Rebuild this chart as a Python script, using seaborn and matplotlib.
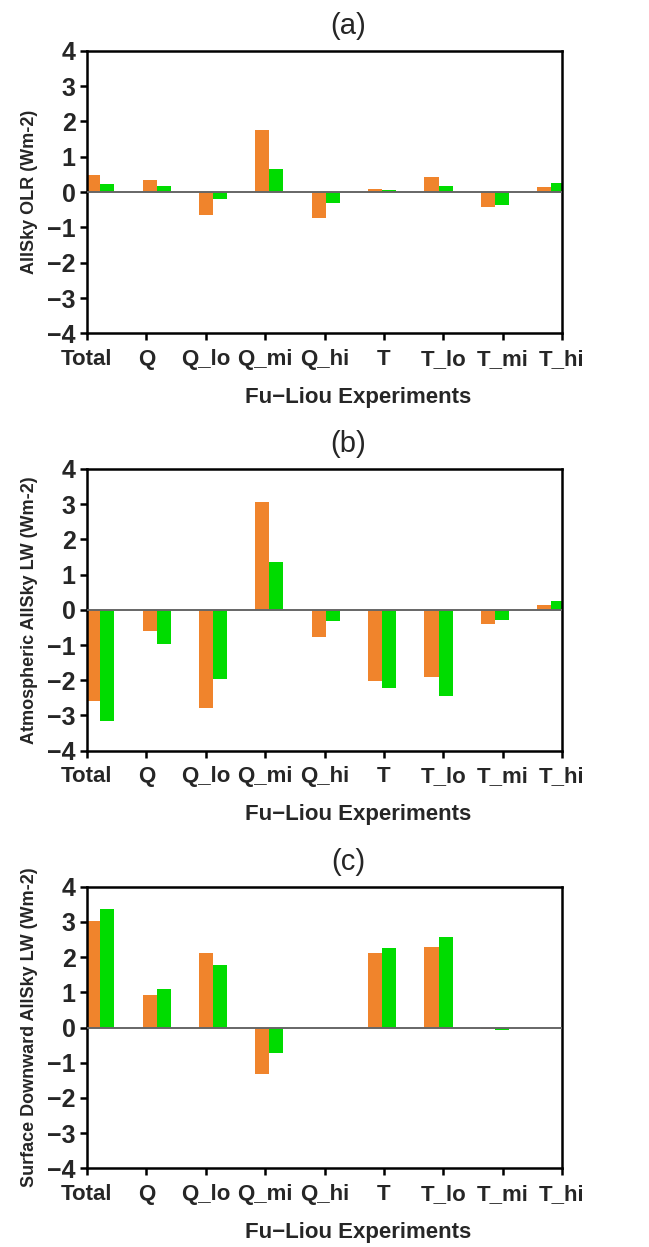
import numpy as np
import pandas as pd
import seaborn as sns
import matplotlib.pyplot as plt
from matplotlib import font_manager

experiments = ['Total', 'Q', 'Q_lo', 'Q_mi', 'Q_hi', 'T', 'T_lo', 'T_mi', 'T_hi']
series = ['orange', 'green']

olr_orange = [0.47, 0.33, -0.65, 1.75, -0.74, 0.10, 0.42, -0.43, 0.13]
olr_green = [0.24, 0.17, -0.21, 0.64, -0.32, 0.07, 0.16, -0.38, 0.27]

atm_orange = [-2.58, -0.60, -2.78, 3.07, -0.77, -2.01, -1.90, -0.39, 0.14]
atm_green = [-3.15, -0.97, -1.96, 1.36, -0.31, -2.22, -2.44, -0.28, 0.26]

sfc_orange = [3.03, 0.93, 2.12, -1.31, 0.0, 2.12, 2.29, -0.04, 0.0]
sfc_green = [3.37, 1.10, 1.78, -0.71, 0.0, 2.26, 2.58, -0.08, 0.0]

panels = ['(a)', '(b)', '(c)']
ylabels = ['AllSky OLR (Wm-2)', 'Atmospheric AllSky LW (Wm-2)',
           'Surface Downward AllSky LW (Wm-2)']
yticks = [-4, -3, -2, -1, 0, 1, 2, 3, 4]


def pick_font():
    names = {f.name for f in font_manager.fontManager.ttflist}
    for n in ['Liberation Sans', 'DejaVu Sans']:
        if n in names:
            return n
    return 'DejaVu Sans'


def main() -> None:
    sns.set_style('white')
    font = pick_font()
    plt.rcParams['font.family'] = [font, 'DejaVu Sans']

    fig = plt.figure(figsize=(6.49, 12.47), dpi=100)
    rects = [[0.134, 0.7327, 0.732, 0.2266],
             [0.134, 0.398, 0.732, 0.2259],
             [0.134, 0.0631, 0.732, 0.2258]]
    data = [(olr_orange, olr_green), (atm_orange, atm_green), (sfc_orange, sfc_green)]

    for k in range(3):
        ax = fig.add_axes(rects[k])
        o, g = data[k]
        df = pd.DataFrame({
            'exp': experiments * 2,
            'series': ['orange'] * 9 + ['green'] * 9,
            'value': o + g,
        })
        sns.barplot(data=df, x='exp', y='value', hue='series', order=experiments,
                    hue_order=series, palette=['#F0842C', '#00DC00'], width=0.5,
                    saturation=1, legend=False, ax=ax, linewidth=0, errorbar=None)
        ax.axhline(0, color='#666666', lw=1.4, zorder=3)

        left, right = -0.235, 8.19
        ax.set_xlim(left, right)
        ax.set_ylim(-4, 4)
        ax.set_xticks(np.linspace(left, right, 9))
        ax.set_xticklabels(experiments, fontsize=16, fontweight='bold')
        ax.set_yticks(yticks)
        ax.set_yticklabels([str(v).replace('-', '\u2212') for v in yticks],
                           fontsize=18, fontweight='bold')
        ax.tick_params(axis='both', direction='out', length=5, width=1.8,
                       color='black', pad=3, bottom=True, left=True)
        ax.tick_params(axis='x', pad=6)
        for s in ax.spines.values():
            s.set_color('black')
            s.set_linewidth(1.8)

        ax.set_xlabel('Fu\u2212Liou Experiments', fontsize=16, fontweight='bold')
        ax.xaxis.set_label_coords(0.57, -0.19)
        ax.set_ylabel(ylabels[k], fontsize=13, fontweight='bold', labelpad=7)
        ax.set_title(panels[k], fontsize=21, x=0.55, y=1.087, va='center', pad=0)

    plt.savefig('out.png', dpi=100)


if __name__ == '__main__':
    main()
